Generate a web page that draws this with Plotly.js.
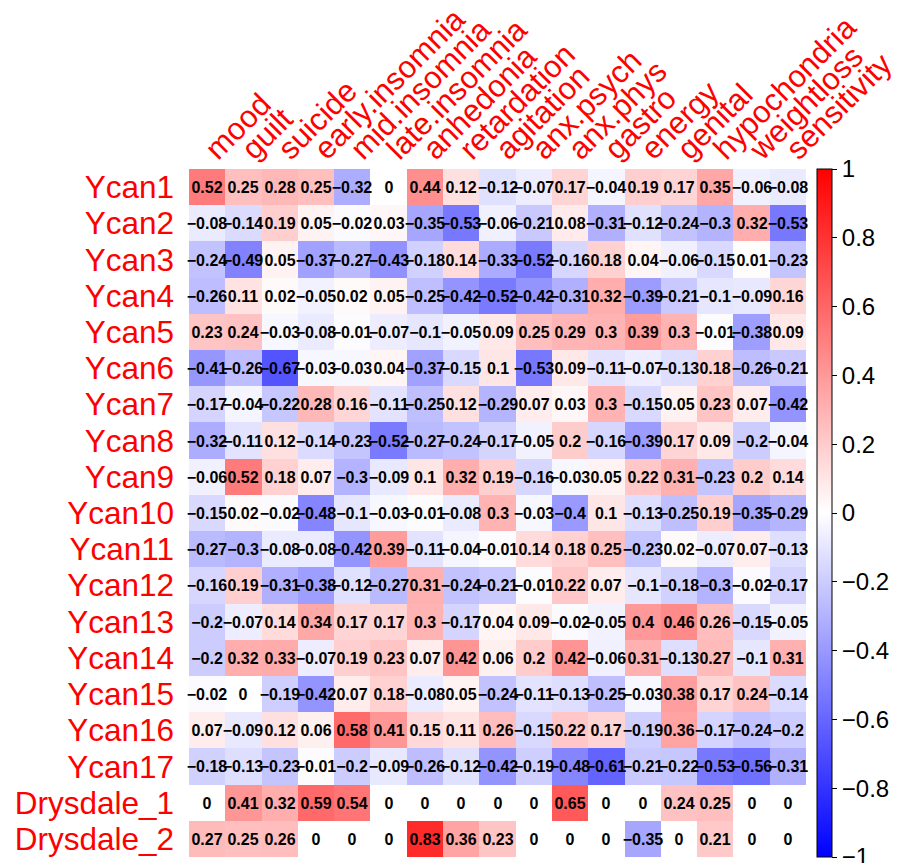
<!DOCTYPE html>
<html>
<head>
<meta charset="utf-8">
<script src="https://cdn.plot.ly/plotly-3.0.1.min.js"></script>
<style>html,body{margin:0;padding:0;background:#fff;}#chart{width:908px;height:863px;}</style>
</head>
<body>
<div id="chart"></div>
<script>
const columns = ["mood","guilt","suicide","early.insomnia","mid.insomnia","late.insomnia","anhedonia","retardation","agitation","anx.psych","anx.phys","gastro","energy","genital","hypochondria","weightloss","sensitivity"];
const rows = ["Ycan1","Ycan2","Ycan3","Ycan4","Ycan5","Ycan6","Ycan7","Ycan8","Ycan9","Ycan10","Ycan11","Ycan12","Ycan13","Ycan14","Ycan15","Ycan16","Ycan17","Drysdale_1","Drysdale_2"];

const Ycan1 = [0.52,0.25,0.28,0.25,-0.32,0,0.44,0.12,-0.12,-0.07,0.17,-0.04,0.19,0.17,0.35,-0.06,-0.08];
const Ycan2 = [-0.08,-0.14,0.19,0.05,-0.02,0.03,-0.35,-0.53,-0.06,-0.21,0.08,-0.31,-0.12,-0.24,-0.3,0.32,-0.53];
const Ycan3 = [-0.24,-0.49,0.05,-0.37,-0.27,-0.43,-0.18,0.14,-0.33,-0.52,-0.16,0.18,0.04,-0.06,-0.15,0.01,-0.23];
const Ycan4 = [-0.26,0.11,0.02,-0.05,0.02,0.05,-0.25,-0.42,-0.52,-0.42,-0.31,0.32,-0.39,-0.21,-0.1,-0.09,0.16];
const Ycan5 = [0.23,0.24,-0.03,-0.08,-0.01,-0.07,-0.1,-0.05,0.09,0.25,0.29,0.3,0.39,0.3,-0.01,-0.38,0.09];
const Ycan6 = [-0.41,-0.26,-0.67,-0.03,-0.03,0.04,-0.37,-0.15,0.1,-0.53,0.09,-0.11,-0.07,-0.13,0.18,-0.26,-0.21];
const Ycan7 = [-0.17,-0.04,-0.22,0.28,0.16,-0.11,-0.25,0.12,-0.29,0.07,0.03,0.3,-0.15,0.05,0.23,0.07,-0.42];
const Ycan8 = [-0.32,-0.11,0.12,-0.14,-0.23,-0.52,-0.27,-0.24,-0.17,-0.05,0.2,-0.16,-0.39,0.17,0.09,-0.2,-0.04];
const Ycan9 = [-0.06,0.52,0.18,0.07,-0.3,-0.09,0.1,0.32,0.19,-0.16,-0.03,0.05,0.22,0.31,-0.23,0.2,0.14];
const Ycan10 = [-0.15,0.02,-0.02,-0.48,-0.1,-0.03,-0.01,-0.08,0.3,-0.03,-0.4,0.1,-0.13,-0.25,0.19,-0.35,-0.29];
const Ycan11 = [-0.27,-0.3,-0.08,-0.08,-0.42,0.39,-0.11,-0.04,-0.01,0.14,0.18,0.25,-0.23,0.02,-0.07,0.07,-0.13];
const Ycan12 = [-0.16,0.19,-0.31,-0.38,-0.12,-0.27,0.31,-0.24,-0.21,-0.01,0.22,0.07,-0.1,-0.18,-0.3,-0.02,-0.17];
const Ycan13 = [-0.2,-0.07,0.14,0.34,0.17,0.17,0.3,-0.17,0.04,0.09,-0.02,-0.05,0.4,0.46,0.26,-0.15,-0.05];
const Ycan14 = [-0.2,0.32,0.33,-0.07,0.19,0.23,0.07,0.42,0.06,0.2,0.42,-0.06,0.31,-0.13,0.27,-0.1,0.31];
const Ycan15 = [-0.02,0,-0.19,-0.42,0.07,0.18,-0.08,0.05,-0.24,-0.11,-0.13,-0.25,-0.03,0.38,0.17,0.24,-0.14];
const Ycan16 = [0.07,-0.09,0.12,0.06,0.58,0.41,0.15,0.11,0.26,-0.15,0.22,0.17,-0.19,0.36,-0.17,-0.24,-0.2];
const Ycan17 = [-0.18,-0.13,-0.23,-0.01,-0.2,-0.09,-0.26,-0.12,-0.42,-0.19,-0.48,-0.61,-0.21,-0.22,-0.53,-0.56,-0.31];
const Drysdale_1 = [0,0.41,0.32,0.59,0.54,0,0,0,0,0,0.65,0,0,0.24,0.25,0,0];
const Drysdale_2 = [0.27,0.25,0.26,0,0,0,0.83,0.36,0.23,0,0,0,-0.35,0,0.21,0,0];

const colorbarTicks = [1,0.8,0.6,0.4,0.2,0,-0.2,-0.4,-0.6,-0.8,-1];

const z = [Ycan1,Ycan2,Ycan3,Ycan4,Ycan5,Ycan6,Ycan7,Ycan8,Ycan9,Ycan10,Ycan11,Ycan12,Ycan13,Ycan14,Ycan15,Ycan16,Ycan17,Drysdale_1,Drysdale_2];
const text = z.map(r => r.map(v => String(v).replace('-', '\u2212')));

const FONT = 'Liberation Sans, Arial, sans-serif';

const trace = {
  type: 'heatmap',
  x: columns,
  y: rows,
  z: z,
  text: text,
  texttemplate: '%{text}',
  textfont: {family: FONT, size: 16, color: '#000', weight: 'bold'},
  zmin: -1, zmax: 1,
  colorscale: [[0,'rgb(0,0,255)'],[0.5,'rgb(255,255,255)'],[1,'rgb(255,0,0)']],
  xgap: 0, ygap: 0,
  hoverinfo: 'skip',
  colorbar: {
    x: 1.0178, xref: 'paper', xanchor: 'left', xpad: 0,
    y: 0.5, yanchor: 'middle', ypad: 0, len: 1, lenmode: 'fraction',
    thickness: 15,
    outlinewidth: 1, outlinecolor: '#000',
    tickmode: 'array', tickvals: colorbarTicks,
    ticks: 'outside', ticklen: 5, tickwidth: 1, tickcolor: '#000',
    tickfont: {family: FONT, size: 24, color: '#000'},
    ticklabelstandoff: 12,
    ticklabeloverflow: 'allow'
  }
};

const layout = {
  width: 908, height: 863,
  margin: {l: 189, r: 102, t: 169, b: 6, pad: 0},
  paper_bgcolor: '#fff', plot_bgcolor: '#fff',
  font: {family: FONT},
  xaxis: {
    side: 'top', tickangle: -45, showgrid: false, zeroline: false, showline: false,
    tickmode: 'array', tickvals: columns, ticktext: columns,
    ticks: '', tickfont: {family: FONT, size: 31, color: 'red'}, ticklabelstandoff: -4,
    fixedrange: true
  },
  yaxis: {
    autorange: 'reversed', showgrid: false, zeroline: false, showline: false,
    tickmode: 'array', tickvals: rows, ticktext: rows,
    ticks: '', tickfont: {family: FONT, size: 31.5, color: 'red'}, ticklabelstandoff: 14,
    fixedrange: true
  },
  showlegend: false
};

Plotly.newPlot('chart', [trace], layout, {displayModeBar: false, staticPlot: true}).then(gd => {
  // let cell labels in the last column spill past the plot edge, as in the reference
  gd.querySelectorAll('.cartesianlayer [clip-path]').forEach(el => el.removeAttribute('clip-path'));
});
</script>
</body>
</html>
